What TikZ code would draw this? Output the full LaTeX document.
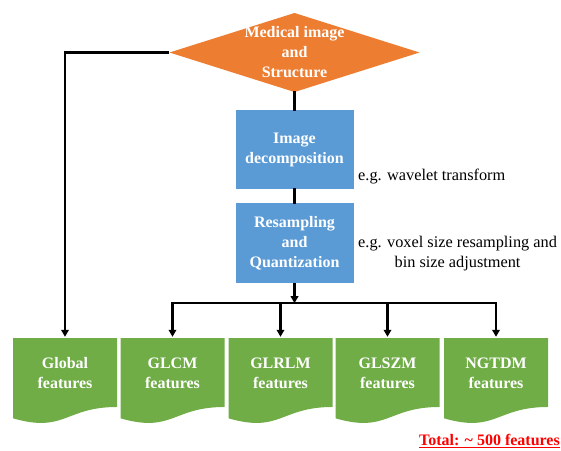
\documentclass[tikz,border=0pt]{standalone}
\usepackage{fontspec}
\setmainfont{Liberation Serif}
\usetikzlibrary{arrows.meta,calc}
\definecolor{diaorange}{HTML}{ED7D31}
\definecolor{procblue}{HTML}{5B9BD5}
\definecolor{featgreen}{HTML}{70AD47}
\begin{document}
\begin{tikzpicture}[x=1pt,y=-1pt,
  every node/.style={font=\fontsize{16}{20}\selectfont, inner sep=0pt, align=center},
  boldwhite/.style={text=white, font=\bfseries\fontsize{16}{20}\selectfont},
  decision/.style={boldwhite, minimum width=250pt, minimum height=79pt,
    path picture={\fill[diaorange] (path picture bounding box.west) -- (path picture bounding box.north)
      -- (path picture bounding box.east) -- (path picture bounding box.south) -- cycle;}},
  process/.style={boldwhite, fill=procblue, minimum width=118pt, minimum height=79pt},
  featdoc/.style={minimum width=104pt, minimum height=86pt,
    path picture={\fill[featgreen] (path picture bounding box.north west) -- (path picture bounding box.north east)
      -- ($(path picture bounding box.north east)!0.802!(path picture bounding box.south east)$)
      .. controls ($(path picture bounding box.north)!0.802!(path picture bounding box.south)$)
      and ($(path picture bounding box.north)!1.108!(path picture bounding box.south)$)
      .. ($(path picture bounding box.north west)!0.934!(path picture bounding box.south west)$) -- cycle;}},
  feattext/.style={boldwhite},
  note/.style={font=\fontsize{16.3}{20}\selectfont},
  link/.style={line width=2.2pt, line cap=rect},
  arrowlink/.style={line width=2.2pt, -{Triangle[length=7pt,width=7.5pt]}},
]
\useasboundingbox (0,0) rectangle (561,450);

% source and processing chain
\node[decision] (dia) at (294.5,52.5) {Medical image\\and\\Structure};
\node[process] (decomp) at (294.5,149.5) {Image\\decomposition};
\node[process, minimum height=80pt] (resamp) at (294.5,243) {Resampling\\and\\Quantization};

\node[note, anchor=west] (note1) at (358,177) {e.g. wavelet transform};
\node[note, anchor=west] (note2) at (358,254) {e.g. voxel size resampling and\\bin size adjustment};

% feature families
\foreach \n/\x/\t in {glob/65/{Global\\features}, glcm/172.5/{GLCM\\features},
    glrlm/280.5/{GLRLM\\features}, glszm/387.5/{GLSZM\\features}, ngtdm/496/{NGTDM\\features}}{
  \node[featdoc] (\n) at (\x,381) {};
  \node[feattext] (\n-t) at (\x,373) {\t};
}

\node[anchor=east, text=red, font=\bfseries\fontsize{16}{20}\selectfont] (total) at (560,441)
  {\underline{Total: \textasciitilde{} 500 features}};

% connectors
\draw[link] (dia.south) -- (decomp.north);
\draw[link] (decomp.south) -- (resamp.north);
\coordinate (bus) at ($(resamp.south)+(0,20)$);
\draw[arrowlink] (resamp.south) -- (bus);
\draw[link] (bus -| glcm.north) -- (bus -| ngtdm.north);
\foreach \n in {glcm,glrlm,glszm,ngtdm}
  \draw[arrowlink] (bus -| \n.north) -- ([yshift=1pt]\n.north);
\draw[arrowlink] (dia.west) -| ([yshift=1pt]glob.north);
\end{tikzpicture}
\end{document}
